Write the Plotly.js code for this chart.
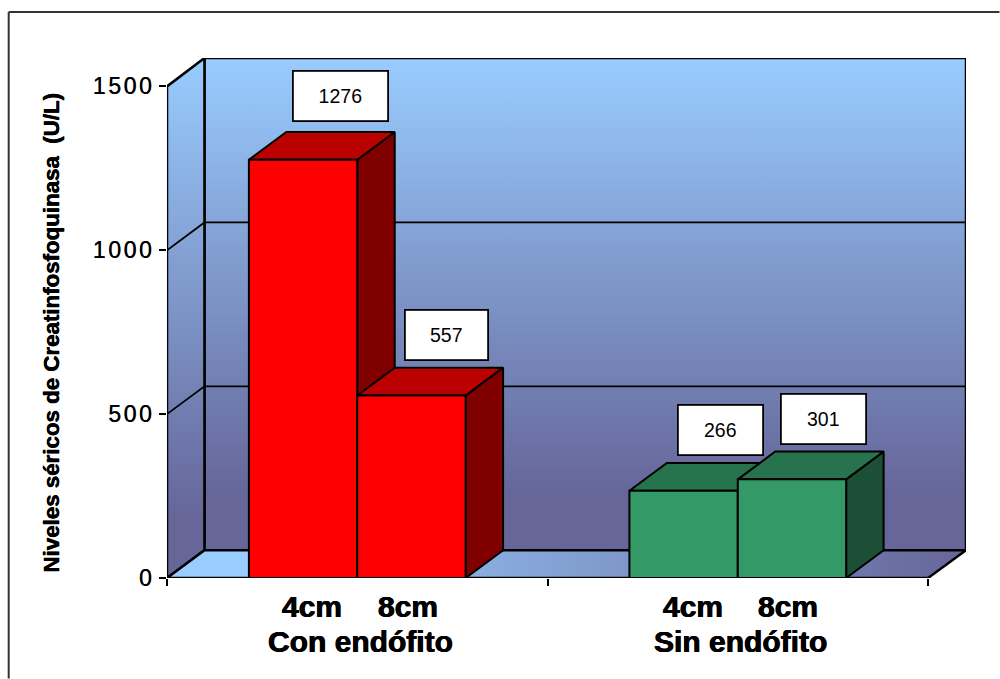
<!DOCTYPE html>
<html lang="es">
<head>
<meta charset="utf-8">
<title>Niveles séricos de Creatinfosfoquinasa</title>
<script src="https://cdn.plot.ly/plotly-3.0.1.min.js"></script>
<style>
  html, body { margin: 0; padding: 0; background: #fff; }
  #chart { width: 1000px; height: 679px; }
  .ytick text { letter-spacing: 2.6px; }
</style>
</head>
<body>
<div id="chart"></div>
<script>
// Creatine kinase serum levels by endophyte status and measured length
const groupNames = ['Con endófito', 'Sin endófito'];
const sizeNames = ['4cm', '8cm'];
const conEndofito = [1276, 557];
const sinEndofito = [266, 301];
const gridValues = [500, 1000];
const yTicks = [0, 500, 1000, 1500];

// Frame of the pseudo-3D box, in pixels of the page
const W = 1000, H = 679;
const plot = { left: 166.5, right: 966.5, top: 58, bottom: 578.4 };
const unitPx = 381;              // width of one category
const valuePx = 0.328;           // pixels per U/L
const depthX = 37.5 / unitPx;    // receding offset, category units
const depthY = 27.8 / valuePx;   // receding offset, U/L
const barW = 108.5 / unitPx;
const sideGap = 82 / unitPx;
const xMax = (plot.right - plot.left) / unitPx;
const yMax = (plot.bottom - plot.top) / valuePx;

const INK = '#000';
const FONT = 'Liberation Sans, Arial, sans-serif';
const HEAVY = '0.45px 0 0 #000, -0.45px 0 0 #000';
const lineOf = (width) => ({ color: INK, width: width, simplify: false });

function polygon(xs, ys, fill, axes, width) {
  const t = {
    type: 'scatter', mode: 'lines', x: xs, y: ys, fill: 'toself',
    line: lineOf(width || 2), hoverinfo: 'skip', showlegend: false,
    fillcolor: fill && fill.colorscale ? undefined : fill
  };
  if (fill && fill.colorscale) t.fillgradient = fill;
  if (axes) { t.xaxis = axes[0]; t.yaxis = axes[1]; }
  return t;
}

const wallGradient = {
  type: 'vertical',
  colorscale: [[0, '#666699'], [0.12, '#666699'], [1, '#99CCFF']]
};
const floorGradient = {
  type: 'horizontal',
  colorscale: [[0, '#99CCFF'], [0.12, '#99CCFF'], [1, '#666699']]
};

const traces = [
  polygon([depthX, xMax, xMax, depthX, depthX],
          [depthY, depthY, yMax, yMax, depthY], wallGradient, null, 2.5),
  polygon([0, depthX, depthX, 0, 0],
          [0, depthY, yMax, 1500, 0], wallGradient, null, 2.5),
  polygon([0, 2, xMax, depthX, 0],
          [0, 0, depthY, depthY, 0], floorGradient, null, 2.5)
];

// Gridlines run along the side wall and across the back wall
gridValues.forEach((v) => {
  traces.push({
    type: 'scatter', mode: 'lines', showlegend: false, hoverinfo: 'skip',
    x: [0, depthX, xMax], y: [v, v + depthY, v + depthY],
    line: lineOf(1.8)
  });
});

const series = [
  { values: conEndofito, start: sideGap, front: '#FF0000', top: '#BB0000', side: '#800000' },
  { values: sinEndofito, start: 1 + sideGap, front: '#339966', top: '#27734D', side: '#1C4F35' }
];

const barX = [], barY = [], barColor = [];
series.forEach((s) => {
  s.values.forEach((v, i) => {
    const x0 = s.start + i * barW, x1 = x0 + barW;
    barX.push((x0 + x1) / 2); barY.push(v); barColor.push(s.front);
    traces.push(polygon([x1, x1 + depthX, x1 + depthX, x1, x1],
                        [0, depthY, v + depthY, v, 0], s.side, ['x2', 'y2']));
    traces.push(polygon([x0, x1, x1 + depthX, x0 + depthX, x0],
                        [v, v, v + depthY, v + depthY, v], s.top, ['x2', 'y2']));
  });
});

// Front faces sit on the topmost plane
traces.push({
  type: 'bar', x: barX, y: barY, width: barW, xaxis: 'x3', yaxis: 'y3',
  marker: { color: barColor, line: { color: INK, width: 2 } },
  hoverinfo: 'skip', showlegend: false
});

const px = (x) => (x - plot.left) / (plot.right - plot.left);
const py = (y) => (plot.bottom - y) / (plot.bottom - plot.top);

const labelShift = [[37.5, 64], [35, 60], [36.5, 60.5], [31.5, 60]];
const labelWidth = [93, 81, 83, 83];

const annotations = barY.map((v, i) => ({
  x: barX[i], y: v, xref: 'x', yref: 'y', text: String(v), showarrow: false,
  xshift: labelShift[i][0], yshift: labelShift[i][1],
  width: labelWidth[i], height: 48, bgcolor: '#fff',
  bordercolor: INK, borderwidth: 1.8, borderpad: 0,
  font: { family: FONT, size: 19.5, color: INK }
}));

const boldText = { family: FONT, size: 30, color: INK, shadow: HEAVY };
barX.forEach((x, i) => {
  annotations.push({
    x: x, xref: 'x', y: py(607), yref: 'paper', showarrow: false,
    xanchor: 'center', yanchor: 'middle',
    xshift: i % 2 ? -3.5 : 9, text: '<b>' + sizeNames[i % 2] + '</b>', font: boldText
  });
});
groupNames.forEach((name, g) => {
  annotations.push({
    x: g + 0.5, xref: 'x', y: py(642), yref: 'paper', showarrow: false,
    xanchor: 'center', yanchor: 'middle', xshift: 3,
    text: '<b>' + name + '</b>', font: boldText
  });
});
annotations.push({
  x: px(51), y: py(333), xref: 'paper', yref: 'paper', showarrow: false,
  xanchor: 'center', yanchor: 'middle', textangle: -90,
  text: '<b>Niveles séricos de Creatinfosfoquinasa  (U/L)</b>',
  font: { family: FONT, size: 22.3, color: INK, shadow: '0.3px 0 0 #000, -0.3px 0 0 #000' }
});

const hiddenX = { range: [0, xMax], overlaying: 'x', visible: false, fixedrange: true };
const hiddenY = { range: [0, yMax], overlaying: 'y', visible: false, fixedrange: true };

const layout = {
  width: W, height: H, showlegend: false,
  paper_bgcolor: '#fff', plot_bgcolor: 'rgba(0,0,0,0)',
  margin: { l: plot.left, r: W - plot.right, t: plot.top, b: H - plot.bottom, pad: 0 },
  bargap: 0,
  xaxis: {
    range: [0, xMax], tickmode: 'array', tickvals: [0, 1, 2], ticktext: ['', '', ''],
    ticks: 'outside', ticklen: 7, tickwidth: 2, tickcolor: INK,
    showgrid: false, zeroline: false, showline: false, fixedrange: true
  },
  yaxis: {
    range: [0, yMax], tickmode: 'array', tickvals: yTicks, ticktext: yTicks.map(String),
    ticks: 'outside', ticklen: 7, tickwidth: 2, tickcolor: INK,
    tickfont: { family: FONT, size: 23, color: INK, shadow: '0.3px 0 0 #000' },
    showgrid: false, zeroline: false, showline: false, fixedrange: true
  },
  xaxis2: hiddenX, yaxis2: hiddenY,
  xaxis3: hiddenX, yaxis3: hiddenY,
  annotations: annotations,
  // Outer chart frame, cut off on the right and at the bottom
  shapes: [
    { type: 'line', xref: 'paper', yref: 'paper', layer: 'below',
      x0: px(8), x1: px(1000), y0: py(12), y1: py(12), line: { color: '#333', width: 2 } },
    { type: 'line', xref: 'paper', yref: 'paper', layer: 'below',
      x0: px(8), x1: px(8), y0: py(12), y1: py(679), line: { color: '#333', width: 2 } }
  ]
};

Plotly.newPlot('chart', traces, layout, { displayModeBar: false, staticPlot: true });
</script>
</body>
</html>
